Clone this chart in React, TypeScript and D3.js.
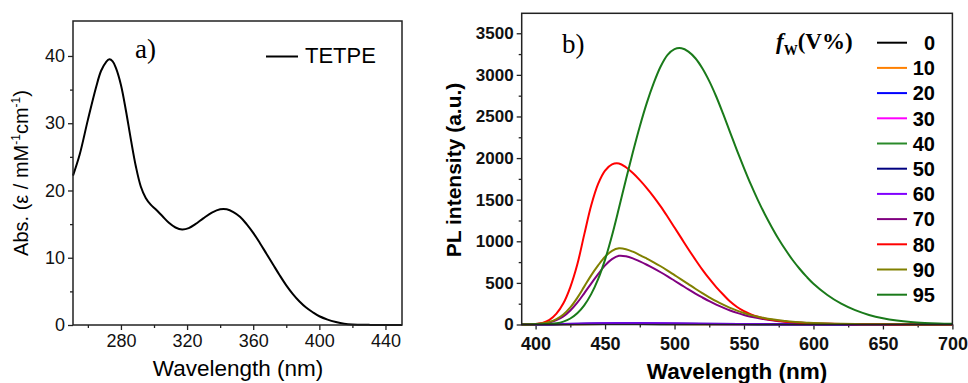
import React, { useEffect, useRef } from 'react';
import * as d3 from 'd3';

// Panel a) absorption spectrum of TETPE
const absWavelength = [251, 255, 260, 265, 268, 271, 273, 275, 277, 280, 283, 286, 289, 292, 295, 298, 301, 305, 309, 313, 317, 321, 325, 330, 335, 340, 344, 348, 352, 356, 360, 364, 368, 372, 376, 380, 384, 388, 392, 396, 400, 405, 410, 415, 420, 430, 440, 450];
const absValues = [22.2, 25.3, 30.5, 35.4, 37.8, 39.1, 39.5, 39.2, 38.2, 35.7, 31.9, 27.6, 23.6, 20.6, 18.9, 17.9, 17.2, 16.2, 15.2, 14.5, 14.2, 14.4, 15.0, 15.9, 16.7, 17.2, 17.2, 16.8, 16.1, 15.0, 13.7, 12.2, 10.6, 9.0, 7.4, 5.9, 4.6, 3.5, 2.6, 1.9, 1.3, 0.8, 0.45, 0.2, 0.08, 0.02, 0, 0];

// Panel b) PL spectra at different water fractions f_W
const fwLabels = ['0', '10', '20', '30', '40', '50', '60', '70', '80', '90', '95'];
const fwColors = ['#000000', '#ff8000', '#0000ff', '#ff00ff', '#2a8a2a', '#000080', '#8000ff', '#800080', '#ff0000', '#808000', '#1a7a1a'];

// weak emission (0 - 60 %)
const lowWavelength = [390, 410, 430, 450, 470, 490, 520, 560, 600, 650, 700];
const pl0 = [0, 1, 3, 5, 5, 4, 3, 2, 1, 0, 0];
const pl10 = [0, 2, 4, 7, 7, 6, 4, 2, 1, 0, 0];
const pl20 = [0, 2, 5, 8, 8, 7, 5, 3, 1, 0, 0];
const pl30 = [0, 2, 6, 10, 10, 8, 6, 3, 1, 0, 0];
const pl40 = [0, 3, 7, 11, 12, 10, 7, 4, 2, 1, 0];
const pl50 = [0, 3, 8, 13, 14, 12, 8, 4, 2, 1, 0];
const pl60 = [1, 4, 10, 15, 16, 14, 10, 5, 2, 1, 0];

// strong emission (70 - 95 %)
const plWavelength = [390, 400, 405, 410, 415, 420, 425, 430, 435, 440, 445, 450, 455, 460, 465, 470, 475, 480, 485, 490, 495, 500, 505, 510, 515, 520, 525, 530, 535, 540, 545, 550, 555, 560, 565, 570, 575, 580, 585, 590, 595, 600, 610, 620, 630, 640, 650, 660, 670, 680, 690, 700];
const pl70 = [0, 4, 11, 25, 52, 97, 168, 262, 375, 492, 605, 710, 785, 825, 820, 795, 758, 718, 675, 628, 578, 526, 474, 422, 372, 325, 280, 239, 202, 169, 140, 115, 94, 77, 62, 50, 40, 32, 26, 21, 17, 13, 8, 5, 4, 3, 2, 1, 1, 1, 0, 0];
const pl80 = [0, 6, 20, 55, 130, 255, 450, 720, 1080, 1430, 1690, 1850, 1925, 1935, 1890, 1820, 1735, 1640, 1535, 1420, 1295, 1165, 1035, 905, 780, 660, 550, 450, 360, 275, 210, 160, 122, 93, 72, 56, 44, 34, 27, 21, 17, 13, 9, 6, 4, 3, 2, 1, 1, 0, 0, 0];
const pl90 = [0, 5, 14, 32, 65, 120, 205, 320, 455, 590, 710, 815, 885, 915, 905, 875, 835, 792, 748, 700, 648, 594, 540, 485, 430, 377, 327, 280, 238, 200, 167, 138, 113, 93, 76, 62, 50, 41, 33, 27, 22, 18, 12, 8, 5, 4, 3, 2, 1, 1, 1, 0];
const pl95 = [0, 2, 4, 7, 15, 35, 72, 135, 230, 365, 545, 780, 1070, 1400, 1740, 2070, 2380, 2660, 2900, 3100, 3240, 3310, 3320, 3280, 3200, 3080, 2925, 2740, 2530, 2310, 2090, 1880, 1680, 1495, 1325, 1170, 1025, 895, 775, 670, 575, 490, 355, 250, 172, 115, 75, 48, 30, 19, 12, 8];

const plSeries = [pl0, pl10, pl20, pl30, pl40, pl50, pl60, pl70, pl80, pl90, pl95];

const sans = 'Liberation Sans, Arial, sans-serif';
const serif = 'Liberation Serif, Times New Roman, serif';

export default function App() {
  const ref = useRef<SVGSVGElement>(null);

  useEffect(() => {
    document.body.style.margin = '0';
    if (!ref.current) return;
    const svg = d3.select(ref.current);
    svg.selectAll('*').remove();

    // ---------- panel a ----------
    const xa = d3.scaleLinear().domain([251, 450]).range([73, 402]);
    const ya = d3.scaleLinear().domain([0, 45.2]).range([325, 21]);

    const ga = svg.append('g');
    const axA = ga.append('g').attr('transform', 'translate(0,325)')
      .call(d3.axisBottom(xa).tickValues([280, 320, 360, 400, 440]).tickSize(5).tickPadding(4));
    axA.selectAll('text').attr('font-family', sans).attr('font-size', 18).attr('fill', '#111');
    ga.append('g').attr('transform', 'translate(0,325)')
      .call(d3.axisBottom(xa).tickValues([260, 300, 340, 380, 420]).tickSize(3).tickFormat(() => ''));
    const ayA = ga.append('g').attr('transform', 'translate(73,0)')
      .call(d3.axisLeft(ya).tickValues([0, 10, 20, 30, 40]).tickSize(5).tickPadding(3));
    ayA.selectAll('text').attr('font-family', sans).attr('font-size', 18).attr('fill', '#111');
    ga.append('g').attr('transform', 'translate(73,0)')
      .call(d3.axisLeft(ya).tickValues([5, 15, 25, 35]).tickSize(3).tickFormat(() => ''));
    ga.selectAll('.domain').remove();
    ga.selectAll('.tick line').attr('stroke', '#222').attr('stroke-width', 1.3);

    const lineA = d3.line<number>()
      .x((_, i) => xa(absWavelength[i]))
      .y(d => ya(d))
      .curve(d3.curveCatmullRom);
    ga.append('path').datum(absValues).attr('d', lineA)
      .attr('fill', 'none').attr('stroke', '#000').attr('stroke-width', 2);

    ga.append('rect').attr('x', 73).attr('y', 21).attr('width', 329).attr('height', 304)
      .attr('fill', 'none').attr('stroke', '#222').attr('stroke-width', 1.5);

    ga.append('text').attr('x', 135).attr('y', 58).attr('font-family', serif).attr('font-size', 27)
      .text('a)');
    ga.append('line').attr('x1', 266).attr('x2', 298).attr('y1', 56.5).attr('y2', 56.5)
      .attr('stroke', '#000').attr('stroke-width', 2);
    ga.append('text').attr('x', 305).attr('y', 63).attr('font-family', sans).attr('font-size', 22)
      .text('TETPE');

    ga.append('text').attr('x', 238).attr('y', 376).attr('text-anchor', 'middle')
      .attr('font-family', sans).attr('font-size', 22.5).text('Wavelength (nm)');

    const yt = ga.append('text').attr('transform', 'translate(28,173) rotate(-90)')
      .attr('text-anchor', 'middle').attr('font-family', sans).attr('font-size', 20);
    yt.append('tspan').text('Abs. (ε / mM');
    yt.append('tspan').attr('font-size', 12).attr('dy', -8).text('-1');
    yt.append('tspan').attr('dy', 8).text('cm');
    yt.append('tspan').attr('font-size', 12).attr('dy', -8).text('-1');
    yt.append('tspan').attr('dy', 8).text(')');

    // ---------- panel b ----------
    const xb = d3.scaleLinear().domain([390, 700]).range([521.7, 952.4]);
    const yb = d3.scaleLinear().domain([0, 3740]).range([324.5, 13.3]);

    const gb = svg.append('g');
    const axB = gb.append('g').attr('transform', 'translate(0,324.5)')
      .call(d3.axisBottom(xb).tickValues(d3.range(400, 701, 50)).tickSize(5).tickPadding(8));
    axB.selectAll('text').attr('font-family', sans).attr('font-size', 18).attr('font-weight', 'bold').attr('fill', '#111');
    gb.append('g').attr('transform', 'translate(0,324.5)')
      .call(d3.axisBottom(xb).tickValues(d3.range(425, 700, 50)).tickSize(3).tickFormat(() => ''));
    const ayB = gb.append('g').attr('transform', 'translate(521.7,0)')
      .call(d3.axisLeft(yb).tickValues(d3.range(0, 3501, 500)).tickFormat(d3.format('d')).tickSize(5).tickPadding(3));
    ayB.selectAll('text').attr('font-family', sans).attr('font-size', 17).attr('font-weight', 'bold').attr('fill', '#111');
    gb.append('g').attr('transform', 'translate(521.7,0)')
      .call(d3.axisLeft(yb).tickValues(d3.range(250, 3740, 500)).tickSize(3).tickFormat(() => ''));
    gb.selectAll('.domain').remove();
    gb.selectAll('.tick line').attr('stroke', '#222').attr('stroke-width', 1.3);

    plSeries.forEach((vals, k) => {
      const wl = vals.length === lowWavelength.length ? lowWavelength : plWavelength;
      const line = d3.line<number>()
        .x((_, i) => xb(wl[i]))
        .y(d => yb(d))
        .curve(d3.curveCatmullRom);
      gb.append('path').datum(vals).attr('d', line)
        .attr('fill', 'none')
        .attr('stroke', fwColors[k])
        .attr('stroke-width', 2);
    });

    gb.append('rect').attr('x', 521.7).attr('y', 13.3).attr('width', 430.7).attr('height', 311.2)
      .attr('fill', 'none').attr('stroke', '#222').attr('stroke-width', 1.5);

    gb.append('text').attr('x', 562).attr('y', 53).attr('font-family', serif).attr('font-size', 27)
      .text('b)');

    const fw = gb.append('text').attr('x', 776).attr('y', 49).attr('font-family', serif)
      .attr('font-weight', 'bold').attr('font-size', 23);
    fw.append('tspan').attr('font-style', 'italic').text('f');
    fw.append('tspan').attr('font-size', 14).attr('dy', 6).text('W');
    fw.append('tspan').attr('dy', -6).text('(V%)');

    const leg = gb.selectAll('.leg').data(fwLabels).enter().append('g')
      .attr('class', 'leg')
      .attr('transform', (_, i) => `translate(0,${42.7 + i * 25.2})`);
    leg.append('line').attr('x1', 877).attr('x2', 907).attr('y1', 0).attr('y2', 0)
      .attr('stroke', (_, i) => fwColors[i]).attr('stroke-width', 2);
    leg.append('text').attr('x', 935).attr('y', 0).attr('dy', '0.36em').attr('text-anchor', 'end')
      .attr('font-family', sans).attr('font-weight', 'bold').attr('font-size', 20)
      .text(d => d);

    gb.append('text').attr('x', 737).attr('y', 379).attr('text-anchor', 'middle')
      .attr('font-family', sans).attr('font-weight', 'bold').attr('font-size', 22.5)
      .text('Wavelength (nm)');
    gb.append('text').attr('transform', 'translate(461,170) rotate(-90)').attr('text-anchor', 'middle')
      .attr('font-family', sans).attr('font-weight', 'bold').attr('font-size', 21)
      .text('PL intensity (a.u.)');
  }, []);

  return <svg ref={ref} width={968} height={383} style={{ display: 'block', background: '#fff' }} />;
}
